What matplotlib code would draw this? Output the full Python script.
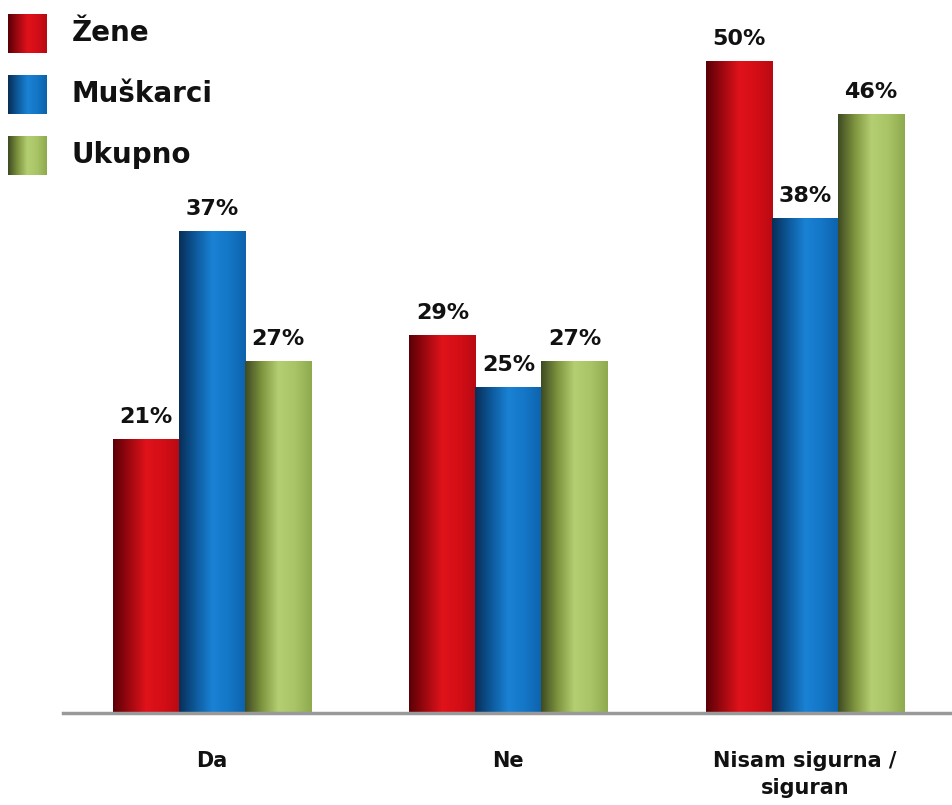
import numpy as np
import matplotlib.pyplot as plt
from matplotlib.colors import LinearSegmentedColormap

categories = ["Da", "Ne", "Nisam sigurna /\nsiguran"]
series = ["Žene", "Muškarci", "Ukupno"]
zene = [21, 29, 50]
muskarci = [37, 25, 38]
ukupno = [27, 27, 46]

# dark edge -> bright -> slightly darker, gives the cylinder look
gradients = [
    ["#5a0006", "#a00810", "#e0121a", "#d40e16", "#b80a12"],
    ["#082e58", "#0d5a9c", "#1a82d4", "#1476c6", "#0d62ac"],
    ["#3e4a22", "#7e943e", "#b4cf72", "#a8c466", "#8eaa4e"],
]
cmaps = [LinearSegmentedColormap.from_list("g%d" % i, c) for i, c in enumerate(gradients)]
grad = np.linspace(0, 1, 256).reshape(1, -1)

fig = plt.figure(figsize=(9.52, 8.05), dpi=100)
ax = fig.add_axes([63 / 952, 92 / 805, 889 / 952, 713 / 805])

x = np.arange(len(categories))
w = 66 / 296
values = [zene, muskarci, ukupno]

for i, vals in enumerate(values):
    for xi, v in zip(x, vals):
        left = xi + (i - 1) * w - w / 2
        ax.imshow(grad, cmap=cmaps[i], extent=[left, left + w, 0, v],
                  aspect="auto", interpolation="bilinear", zorder=2)
        ax.annotate("%d%%" % v, (left + w / 2, v), xytext=(0, 9),
                    textcoords="offset points", ha="center", va="bottom",
                    fontsize=16, fontweight="bold", color="#111111")

ax.set_xlim(-0.503, 2.497)
ax.set_ylim(0, 54.76)
for s in ["top", "right", "left"]:
    ax.spines[s].set_visible(False)
ax.spines["bottom"].set_color("#999999")
ax.spines["bottom"].set_linewidth(2.5)
ax.set_yticks([])
ax.set_xticks(x)
ax.set_xticklabels(categories, fontsize=15, fontweight="bold", color="#111111",
                   linespacing=1.45)
ax.tick_params(axis="x", length=0, pad=27)

# legend: gradient squares top-left
for i, name in enumerate(series):
    top = 14 + i * 61
    lax = fig.add_axes([8 / 952, (805 - top - 39) / 805, 39 / 952, 39 / 805])
    lax.imshow(grad, cmap=cmaps[i], aspect="auto", interpolation="bilinear")
    lax.axis("off")
    fig.text(72 / 952, (805 - top - 19) / 805, name, fontsize=20,
             fontweight="bold", va="center", ha="left", color="#111111")

fig.savefig("out.png", dpi=100)
